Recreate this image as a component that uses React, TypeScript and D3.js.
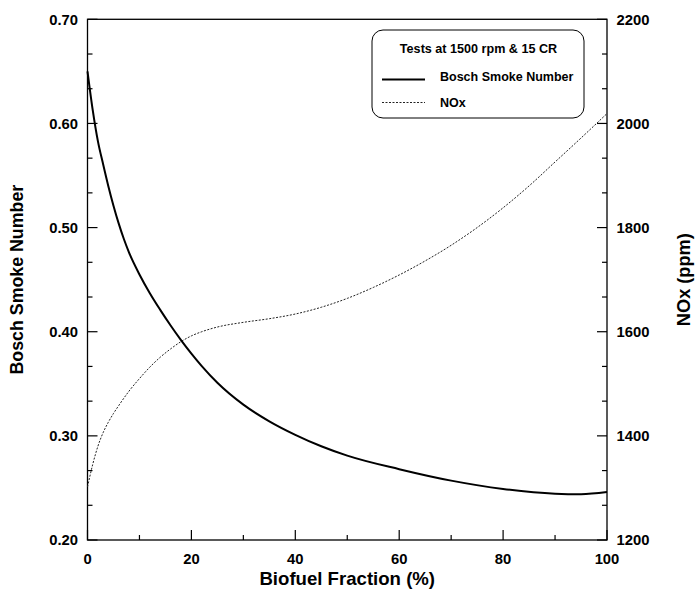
import React from 'react'
import * as d3 from 'd3'

// values
const fraction = [0, 1, 2, 3, 4, 5, 6, 7, 8, 10, 12, 14, 16, 18, 20, 22, 25, 30, 35, 40, 45, 50, 60, 70, 80, 90, 95, 100]
const smokeNumber = [0.65, 0.613, 0.583, 0.561, 0.54, 0.521, 0.504, 0.489, 0.476, 0.455, 0.437, 0.421, 0.406, 0.392, 0.379, 0.367, 0.351, 0.33, 0.314, 0.301, 0.29, 0.281, 0.268, 0.257, 0.249, 0.2445, 0.244, 0.246]
const noxFraction = [0, 1, 2, 3, 4, 5, 6, 8, 10, 12, 14, 16, 18, 20, 22, 25, 30, 35, 40, 45, 50, 55, 60, 65, 70, 75, 80, 85, 90, 95, 100]
const noxPpm = [1302, 1345, 1380, 1406, 1426, 1443, 1458, 1486, 1510, 1532, 1551, 1567, 1581, 1592, 1600, 1609, 1618, 1625, 1634, 1647, 1664, 1685, 1709, 1736, 1766, 1800, 1838, 1880, 1926, 1972, 2019]

const xTicks = [0, 20, 40, 60, 80, 100]
const leftTicks = [0.2, 0.3, 0.4, 0.5, 0.6, 0.7]
const rightTicks = [1200, 1400, 1600, 1800, 2000, 2200]

const legendTitle = 'Tests at 1500 rpm & 15 CR'
const seriesNames = ['Bosch Smoke Number', 'NOx']

const W = 698
const H = 591
const margin = { left: 87.5, right: 91, top: 19.3, bottom: 51 }
const FONT = '"Liberation Sans", Arial, Helvetica, sans-serif'

export default function App() {
    const x0 = margin.left
    const x1 = W - margin.right
    const y0 = H - margin.bottom
    const y1 = margin.top

    const x = d3.scaleLinear().domain([0, 100]).range([x0, x1])
    const yL = d3.scaleLinear().domain([0.2, 0.7]).range([y0, y1])
    const yR = d3.scaleLinear().domain([1200, 2200]).range([y0, y1])

    const smokeLine = d3
        .line<number>()
        .x((d, i) => x(fraction[i]))
        .y((d) => yL(d))
        .curve(d3.curveMonotoneX)
    const noxLine = d3
        .line<number>()
        .x((d, i) => x(noxFraction[i]))
        .y((d) => yR(d))
        .curve(d3.curveMonotoneX)

    // minor ticks: x every 10, y thirds of each step
    const xMinor = d3.range(10, 100, 20)
    const leftMinor = d3.range(0, 15).map((i) => 0.2 + (i + 1) * (0.1 / 3)).filter((v, i) => (i + 1) % 3 !== 0)
    const rightMinor = d3.range(0, 15).map((i) => 1200 + (i + 1) * (200 / 3)).filter((v, i) => (i + 1) % 3 !== 0)

    const fmtL = d3.format('.2f')
    const tickFont = 14.8

    return (
        <svg width={W} height={H} style={{ position: 'absolute', left: 0, top: 0, background: '#fff' }} fontFamily={FONT}>
            <rect x={0} y={0} width={W} height={H} fill="#fff" />

            {/* frame */}
            <rect x={x0} y={y1} width={x1 - x0} height={y0 - y1} fill="none" stroke="#000" strokeWidth={1.3} />

            {/* bottom axis */}
            {xTicks.map((t) => (
                <g key={'xt' + t}>
                    <line x1={x(t)} x2={x(t)} y1={y0} y2={y0 - 10} stroke="#000" strokeWidth={1.2} />
                    <text x={x(t)} y={y0 + 23.5} textAnchor="middle" fontSize={tickFont} fontWeight="bold">{t}</text>
                </g>
            ))}
            {xMinor.map((t) => (
                <line key={'xm' + t} x1={x(t)} x2={x(t)} y1={y0} y2={y0 - 5} stroke="#000" strokeWidth={1.2} />
            ))}

            {/* left axis */}
            {leftTicks.map((t) => (
                <g key={'lt' + t}>
                    <line x1={x0} x2={x0 + 10} y1={yL(t)} y2={yL(t)} stroke="#000" strokeWidth={1.2} />
                    <text x={x0 - 9.5} y={yL(t)} dy="0.36em" textAnchor="end" fontSize={tickFont} fontWeight="bold">{fmtL(t)}</text>
                </g>
            ))}
            {leftMinor.map((t, i) => (
                <line key={'lm' + i} x1={x0} x2={x0 + 5} y1={yL(t)} y2={yL(t)} stroke="#000" strokeWidth={1.2} />
            ))}

            {/* right axis */}
            {rightTicks.map((t) => (
                <g key={'rt' + t}>
                    <line x1={x1} x2={x1 - 10} y1={yR(t)} y2={yR(t)} stroke="#000" strokeWidth={1.2} />
                    <text x={x1 + 9.5} y={yR(t)} dy="0.36em" textAnchor="start" fontSize={tickFont} fontWeight="bold">{t}</text>
                </g>
            ))}
            {rightMinor.map((t, i) => (
                <line key={'rm' + i} x1={x1} x2={x1 - 5} y1={yR(t)} y2={yR(t)} stroke="#000" strokeWidth={1.2} />
            ))}

            {/* axis titles */}
            <text x={(x0 + x1) / 2} y={584.5} textAnchor="middle" fontSize={18.6} fontWeight="bold">Biofuel Fraction (%)</text>
            <text transform={`translate(23,${(y0 + y1) / 2}) rotate(-90)`} textAnchor="middle" fontSize={17.8} fontWeight="bold">Bosch Smoke Number</text>
            <text transform={`translate(690,${(y0 + y1) / 2}) rotate(-90)`} textAnchor="middle" fontSize={18.2} fontWeight="bold">NOx (ppm)</text>

            {/* series */}
            <path d={noxLine(noxPpm) || ''} fill="none" stroke="#222" strokeWidth={1} strokeDasharray="2,1.5" />
            <path d={smokeLine(smokeNumber) || ''} fill="none" stroke="#000" strokeWidth={2} />

            {/* legend */}
            <rect x={372} y={30} width={212} height={88} rx={11} ry={11} fill="#fff" stroke="#000" strokeWidth={1} />
            <text x={478.5} y={53.3} textAnchor="middle" fontSize={12.6} fontWeight="bold">{legendTitle}</text>
            <line x1={382} x2={425} y1={79.5} y2={79.5} stroke="#000" strokeWidth={2} />
            <text x={440} y={81} fontSize={12.5} fontWeight="bold">{seriesNames[0]}</text>
            <line x1={382} x2={425} y1={102.5} y2={102.5} stroke="#222" strokeWidth={1} strokeDasharray="2,1.5" />
            <text x={440} y={107} fontSize={12.5} fontWeight="bold">{seriesNames[1]}</text>
        </svg>
    )
}
